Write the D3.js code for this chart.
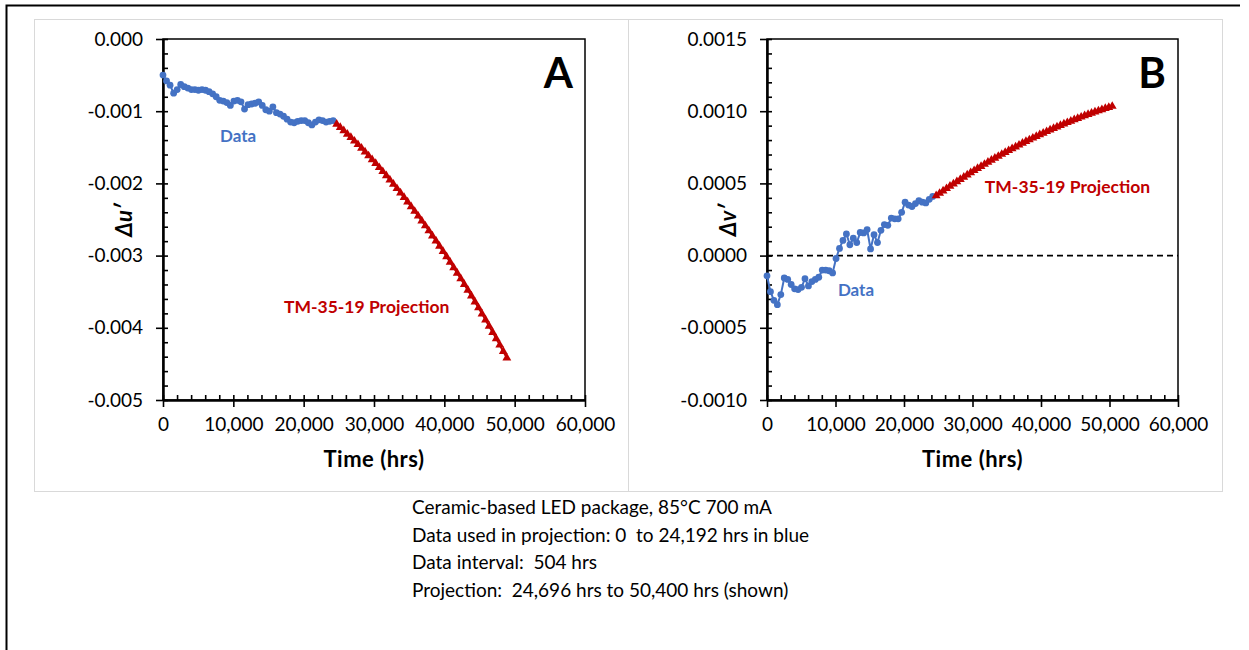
<!DOCTYPE html>
<html>
<head>
<meta charset="utf-8">
<title>Color shift projection</title>
<script src="https://cdnjs.cloudflare.com/ajax/libs/d3/7.8.5/d3.min.js"></script>
<style>
  body { margin: 0; background: #fff; }
  svg text { font-family: Lato, "Open Sans", sans-serif; }
</style>
</head>
<body>
<div id="chart"></div>
<script>
// ---------------- data ----------------
const dataInterval = 504;          // hrs between readings
const projStart = 24696;           // first projected hour

// panel A: delta u'
const duData = [-0.00050, -0.00058, -0.00064, -0.00075, -0.00070, -0.00063, -0.00066, -0.00068, -0.00070, -0.00070,
  -0.00071, -0.00070, -0.00071, -0.00073, -0.00076, -0.00080, -0.00085, -0.00086, -0.00088, -0.00092,
  -0.00086, -0.00085, -0.00087, -0.00097, -0.00091, -0.00090, -0.00089, -0.00087, -0.00092, -0.00098,
  -0.00100, -0.00094, -0.00102, -0.00104, -0.00107, -0.00111, -0.00115, -0.00116, -0.00114, -0.00113,
  -0.00113, -0.00116, -0.00119, -0.00115, -0.00112, -0.00113, -0.00115, -0.00114, -0.00113];
const duProj = [-0.001180, -0.001225, -0.001270, -0.001317, -0.001364, -0.001413, -0.001462, -0.001513, -0.001564, -0.001617,
  -0.001670, -0.001724, -0.001780, -0.001836, -0.001893, -0.001952, -0.002011, -0.002071, -0.002132, -0.002194,
  -0.002257, -0.002321, -0.002386, -0.002452, -0.002519, -0.002587, -0.002656, -0.002726, -0.002797, -0.002869,
  -0.002942, -0.003015, -0.003090, -0.003166, -0.003243, -0.003320, -0.003399, -0.003479, -0.003559, -0.003641,
  -0.003723, -0.003807, -0.003891, -0.003977, -0.004063, -0.004150, -0.004239, -0.004328, -0.004418];

// panel B: delta v'
const dvData = [-0.000140, -0.000250, -0.000310, -0.000340, -0.000270, -0.000155, -0.000165, -0.000200, -0.000230, -0.000235,
  -0.000220, -0.000160, -0.000210, -0.000180, -0.000165, -0.000150, -0.000100, -0.000100, -0.000105, -0.000120,
  -0.000020, 0.000050, 0.000105, 0.000150, 0.000075, 0.000120, 0.000090, 0.000160, 0.000157, 0.000180,
  0.000046, 0.000145, 0.000090, 0.000175, 0.000215, 0.000210, 0.000260, 0.000255, 0.000255, 0.000300,
  0.000370, 0.000350, 0.000340, 0.000360, 0.000380, 0.000370, 0.000365, 0.000390, 0.000410];
const dvProj = [0.0004150, 0.0004317, 0.0004483, 0.0004646, 0.0004808, 0.0004968, 0.0005126, 0.0005282, 0.0005437, 0.0005589,
  0.0005740, 0.0005889, 0.0006036, 0.0006181, 0.0006325, 0.0006466, 0.0006606, 0.0006744, 0.0006880, 0.0007015,
  0.0007147, 0.0007278, 0.0007406, 0.0007533, 0.0007658, 0.0007782, 0.0007903, 0.0008023, 0.0008140, 0.0008256,
  0.0008370, 0.0008482, 0.0008593, 0.0008702, 0.0008808, 0.0008913, 0.0009016, 0.0009117, 0.0009217, 0.0009314,
  0.0009410, 0.0009504, 0.0009596, 0.0009686, 0.0009775, 0.0009861, 0.0009946, 0.0010029, 0.0010110, 0.0010189,
  0.0010267, 0.0010342];

const xTicks = [0, 10000, 20000, 30000, 40000, 50000, 60000];
const yTicksA = [0, -0.001, -0.002, -0.003, -0.004, -0.005];
const yTicksB = [0.0015, 0.0010, 0.0005, 0.0000, -0.0005, -0.0010];

const captionLines = [
  "Ceramic-based LED package, 85°C 700 mA",
  "Data used in projection: 0  to 24,192 hrs in blue",
  "Data interval:  504 hrs",
  "Projection:  24,696 hrs to 50,400 hrs (shown)"
];

const blue = "#4472C4", red = "#C00000";

// ---------------- svg ----------------
const W = 1249, H = 650;
const svg = d3.select("#chart").append("svg").attr("width", W).attr("height", H);

// outer frame (open on the right)
svg.append("path").attr("d", "M1240,5.5H6.5V650")
  .attr("fill", "none").attr("stroke", "#000").attr("stroke-width", 2);

function withTimes(vals, start) {
  return vals.map((v, i) => ({ t: start + i * dataInterval, v: v }));
}

function drawPanel(p) {
  // light gray chart box
  svg.append("rect").attr("x", p.box[0] + 0.5).attr("y", 19.5)
    .attr("width", p.box[1] - p.box[0]).attr("height", 472)
    .attr("fill", "#fff").attr("stroke", "#d9d9d9").attr("stroke-width", 1);

  const x = d3.scaleLinear().domain([0, 60000]).range([p.left, p.right]);
  const y = d3.scaleLinear().domain(p.yDomain).range([400, 39]);
  const g = svg.append("g");

  // frame
  g.append("rect").attr("x", p.left).attr("y", 39)
    .attr("width", p.right - p.left).attr("height", 361)
    .attr("fill", "none").attr("stroke", "#000").attr("stroke-width", 1.5);

  // minor + major ticks pointing in
  const yAll = d3.range(p.yDomain[0], p.yDomain[1] + p.yMinor / 2, p.yMinor);
  const xAll = d3.range(0, 60001, 2000);
  g.append("g").attr("transform", `translate(${p.left},0)`)
    .call(d3.axisRight(y).tickValues(yAll).tickSize(5).tickSizeOuter(0).tickFormat(""))
    .call(a => a.select(".domain").remove());
  g.append("g").attr("transform", "translate(0,400)")
    .call(d3.axisTop(x).tickValues(xAll).tickSize(5).tickSizeOuter(0).tickFormat(""))
    .call(a => a.select(".domain").remove());

  // labelled axes, ticks pointing out
  const ya = g.append("g").attr("transform", `translate(${p.left},0)`)
    .call(d3.axisLeft(y).tickValues(p.yTicks).tickSize(7).tickSizeOuter(0).tickPadding(13)
      .tickFormat(d => d.toFixed(p.dec)));
  const xa = g.append("g").attr("transform", "translate(0,400)")
    .call(d3.axisBottom(x).tickValues(xTicks).tickSize(7).tickSizeOuter(0).tickPadding(11)
      .tickFormat(d3.format(",")));
  [ya, xa].forEach(a => {
    a.select(".domain").attr("stroke-width", 2.5);
    a.selectAll("text").attr("font-size", 19).attr("fill", "#000")
      .style("font-family", "Lato, sans-serif");
  });
  g.selectAll(".tick line").attr("stroke-width", 1.6);

  if (p.zeroLine) {
    g.append("line").attr("x1", p.left).attr("x2", p.right)
      .attr("y1", y(0)).attr("y2", y(0))
      .attr("stroke", "#000").attr("stroke-width", 1.6).attr("stroke-dasharray", "6,4");
  }

  const line = d3.line().x(d => x(d.t)).y(d => y(d.v));
  const dat = withTimes(p.data, 0);
  const proj = withTimes(p.proj, projStart);

  g.append("path").datum(dat).attr("d", line)
    .attr("fill", "none").attr("stroke", blue).attr("stroke-width", 2);
  g.selectAll(".dot").data(dat).enter().append("circle")
    .attr("cx", d => x(d.t)).attr("cy", d => y(d.v)).attr("r", 3.4).attr("fill", blue);

  g.append("path").datum(proj).attr("d", line)
    .attr("fill", "none").attr("stroke", red).attr("stroke-width", 2);
  const tri = d3.symbol().type(d3.symbolTriangle).size(34);
  g.selectAll(".tri").data(proj).enter().append("path")
    .attr("d", tri).attr("transform", d => `translate(${x(d.t)},${y(d.v)})`)
    .attr("fill", red);

  // annotations
  g.append("text").attr("x", x(p.dataLbl[0])).attr("y", y(p.dataLbl[1]))
    .attr("fill", blue).attr("font-weight", "bold").attr("font-size", 17).text("Data");
  g.append("text").attr("x", x(p.projLbl[0])).attr("y", y(p.projLbl[1]))
    .attr("fill", red).attr("font-weight", "bold").attr("font-size", 17.5).text("TM-35-19 Projection");
  g.append("text").attr("x", x(56200)).attr("y", 88).attr("text-anchor", "middle")
    .attr("font-weight", "bold").attr("font-size", 42).attr("fill", "#000").text(p.letter);

  // axis titles
  g.append("text").attr("transform", `translate(${p.left - 31},220) rotate(-90)`)
    .attr("text-anchor", "middle").attr("font-weight", "bold").attr("font-style", "italic")
    .attr("font-size", 22).text(p.yTitle);
  g.append("text").attr("x", (p.left + p.right) / 2).attr("y", 467)
    .attr("text-anchor", "middle").attr("font-weight", "bold").attr("font-size", 22)
    .attr("letter-spacing", 0.5).text("Time (hrs)");
}

drawPanel({
  box: [34, 628], left: 163, right: 585, yDomain: [-0.005, 0], yMinor: 0.0002,
  yTicks: yTicksA, dec: 3, data: duData, proj: duProj, letter: "A", yTitle: "Δu′",
  dataLbl: [8100, -0.00143], projLbl: [17200, -0.0038], zeroLine: false
});
drawPanel({
  box: [628, 1222], left: 767, right: 1178, yDomain: [-0.001, 0.0015], yMinor: 0.0001,
  yTicks: yTicksB, dec: 4, data: dvData, proj: dvProj, letter: "B", yTitle: "Δv′",
  dataLbl: [10350, -0.000277], projLbl: [31800, 0.000436], zeroLine: true
});

// caption
svg.append("g").selectAll("text").data(captionLines).enter().append("text")
  .attr("x", 412).attr("y", (d, i) => 514 + i * 27.5)
  .attr("font-size", 19).attr("fill", "#000").style("white-space", "pre").text(d => d);
</script>
</body>
</html>
